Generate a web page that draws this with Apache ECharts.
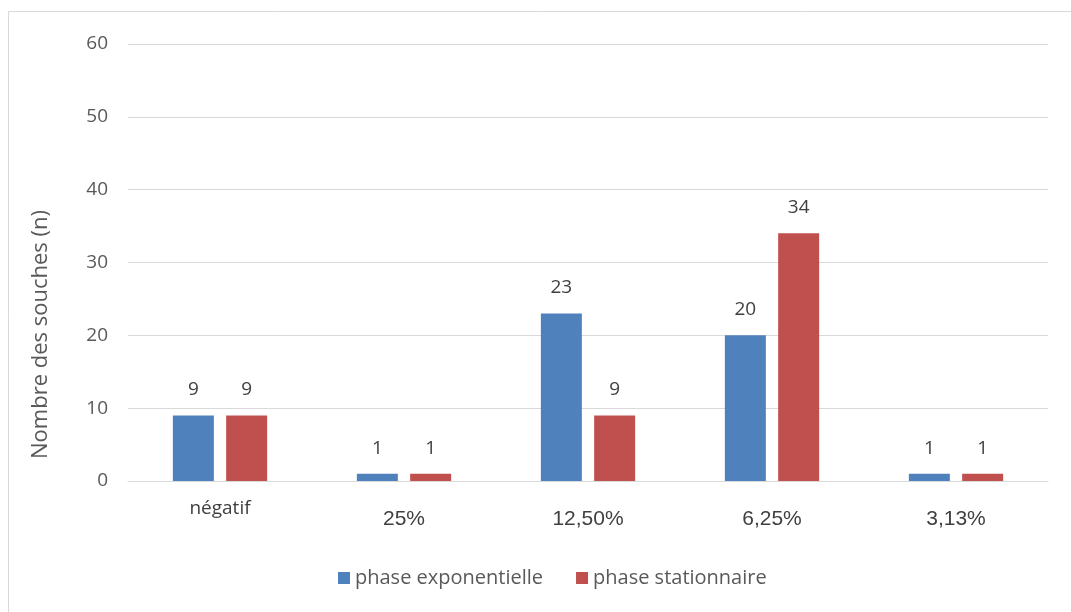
<!DOCTYPE html>
<html>
<head>
<meta charset="utf-8">
<script src="https://cdn.jsdelivr.net/npm/echarts@6/dist/echarts.min.js"></script>
<style>
html, body { margin: 0; padding: 0; background: #fff; }
#chart { width: 1071px; height: 612px; }
</style>
</head>
<body>
<div id="chart"></div>
<script>
const categories = ['négatif', '25%', '12,50%', '6,25%', '3,13%']
const expo = [9, 1, 23, 20, 1]
const stat = [9, 1, 9, 34, 1]

let chart = echarts.init(document.getElementById('chart'))
let option = {
  animation: false,
  graphic: [{
    type: 'rect',
    shape: { x: 8.5, y: 11.5, width: 1080, height: 620 },
    style: { fill: 'none', stroke: '#d9d9d9', lineWidth: 1 },
    silent: true
  }],
  legend: {
    data: ['phase exponentielle', 'phase stationnaire'],
    left: 333,
    top: 563,
    itemWidth: 12,
    itemHeight: 12,
    itemGap: 33,
    icon: 'rect',
    textStyle: { fontFamily: 'Open Sans', fontSize: 20, color: '#595959' }
  },
  grid: { left: 128, right: 23, top: 44, bottom: 131 },
  xAxis: {
    type: 'category',
    data: categories,
    axisTick: { show: false },
    axisLine: { lineStyle: { color: '#d9d9d9' } },
    axisLabel: {
      margin: 18,
      formatter: function (v) {
        return v === 'négatif' ? '{s|' + v + '}' : '{b|' + v + '}'
      },
      rich: {
        s: { fontFamily: 'Open Sans', fontSize: 19, color: '#404040' },
        b: { fontFamily: 'Liberation Sans', fontSize: 21, color: '#404040', padding: [10, 0, 0, 0] }
      }
    }
  },
  yAxis: {
    type: 'value',
    min: 0,
    max: 60,
    interval: 10,
    name: 'Nombre des souches (n)',
    nameLocation: 'middle',
    nameGap: 76,
    nameTextStyle: { fontFamily: 'Open Sans', fontSize: 22, color: '#595959', padding: [0, 144, 0, 0] },
    axisLabel: { color: '#595959', fontFamily: 'Open Sans', fontSize: 19, margin: 20 },
    splitLine: { lineStyle: { color: '#d9d9d9' } }
  },
  series: [
    {
      name: 'phase exponentielle',
      type: 'bar',
      data: expo,
      barWidth: 41,
      barGap: '30%',
      itemStyle: { color: '#4f81bd' },
      label: { show: true, position: 'top', distance: 16, color: '#404040', fontFamily: 'Open Sans', fontSize: 19 }
    },
    {
      name: 'phase stationnaire',
      type: 'bar',
      data: stat,
      barWidth: 41,
      itemStyle: { color: '#c0504d' },
      label: { show: true, position: 'top', distance: 16, color: '#404040', fontFamily: 'Open Sans', fontSize: 19 }
    }
  ]
}
chart.setOption(option)
</script>
</body>
</html>
